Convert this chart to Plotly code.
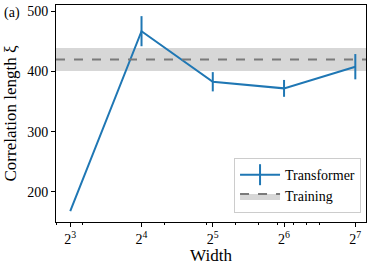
import numpy as np
import plotly.graph_objects as go

widths = [8, 16, 32, 64, 128]
corr_len = [168, 467, 383, 372, 408]
corr_err = [0, 25, 16, 14, 21]
train_mean = 420
train_std = 19
major_ticks = [8, 16, 32, 64, 128]
major_labels = ["2<sup>3</sup>", "2<sup>4</sup>", "2<sup>5</sup>", "2<sup>6</sup>", "2<sup>7</sup>"]
minor_ticks = [7, 9, 20, 30, 40, 50, 60, 70, 80, 90]
y_ticks = [200, 300, 400, 500]

BLUE = "#1f77b4"
GRAY = "#7a7a7a"
BAND = "#d7d7d7"
FONT = "Liberation Serif"

fig = go.Figure()

fig.add_hrect(y0=train_mean - train_std, y1=train_mean + train_std,
              fillcolor=BAND, line_width=0, layer="below")
fig.add_hline(y=train_mean, line=dict(color=GRAY, width=2, dash="dash"))

fig.add_trace(go.Scatter(
    x=widths, y=corr_len, mode="lines", showlegend=False,
    line=dict(color=BLUE, width=2),
    error_y=dict(type="data", array=corr_err, color=BLUE, thickness=2, width=0),
))
# legend entries
fig.add_trace(go.Scatter(
    x=[None], y=[None], mode="lines+markers", name="Transformer",
    line=dict(color=BLUE, width=2),
    marker=dict(symbol="line-ns-open", size=15, line=dict(color=BLUE, width=2)),
))
fig.add_trace(go.Scatter(
    x=[None], y=[None], mode="lines", name="Training", fill="toself",
    fillcolor=BAND, line=dict(color=GRAY, width=2, dash="dash"),
))

fig.update_layout(
    width=374, height=265,
    margin=dict(l=56, r=8, t=5, b=43, autoexpand=False),
    plot_bgcolor="white", paper_bgcolor="white",
    font=dict(family=FONT, size=14, color="black"),
    showlegend=True,
    legend=dict(x=0.984, y=0.041, xanchor="right", yanchor="bottom",
                bgcolor="rgba(255,255,255,0.8)", bordercolor="#cccccc", borderwidth=1,
                font=dict(size=14), tracegroupgap=0, itemwidth=40),
)
fig.update_xaxes(
    type="log", range=[np.log10(2) * 2.8, np.log10(2) * 7.15],
    tickmode="array", tickvals=major_ticks, ticktext=major_labels,
    ticks="outside", ticklen=4, tickwidth=1, tickcolor="black",
    showline=True, linecolor="black", linewidth=1, mirror=True,
    showgrid=False, zeroline=False, automargin=False,
    minor=dict(tickmode="array", tickvals=minor_ticks, ticks="outside", ticklen=2,
               tickwidth=0.8, tickcolor="black", showgrid=False),
    title=dict(text="Width", standoff=0),
)
fig.update_yaxes(
    range=[150, 510.5], tickvals=y_ticks,
    ticks="outside", ticklen=4, tickwidth=1, tickcolor="black",
    showline=True, linecolor="black", linewidth=1, mirror=True,
    showgrid=False, zeroline=False, automargin=False,
    title=dict(text="Correlation length ξ", standoff=6),
)
fig.add_annotation(text="(a)", xref="paper", yref="paper", x=-0.175, y=1.0,
                   xanchor="left", yanchor="top", showarrow=False,
                   font=dict(size=14), yshift=2)

fig.write_html("out.html", config={"displayModeBar": False},
               post_script="document.body.style.margin='0';")
